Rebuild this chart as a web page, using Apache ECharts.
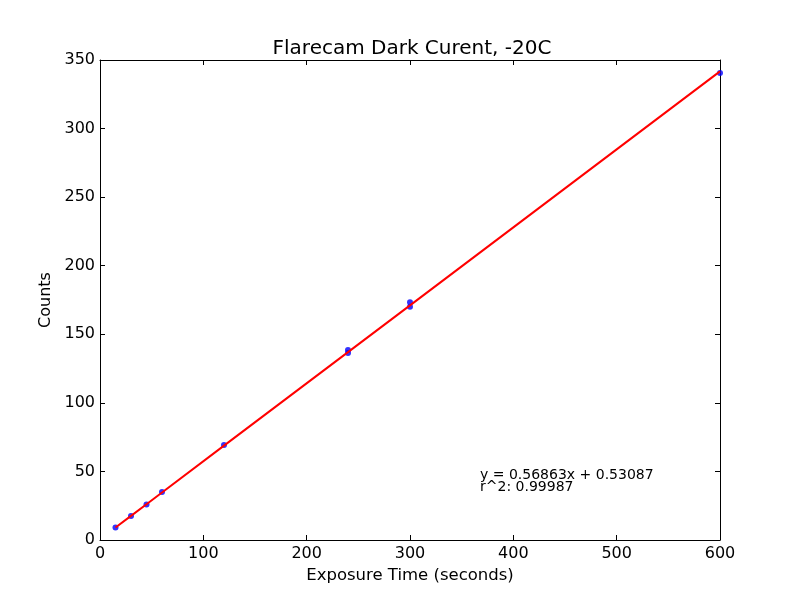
<!DOCTYPE html>
<html>
<head>
<meta charset="utf-8">
<script src="https://cdn.jsdelivr.net/npm/echarts@6/dist/echarts.min.js"></script>
<style>
  html, body { margin: 0; padding: 0; background: #fff; }
  #chart { width: 800px; height: 600px; }
</style>
</head>
<body>
<div id="chart"></div>
<script>
// measured points
const exposure = [15, 30, 45, 60, 120, 240, 240, 300, 300, 600]
const counts = [9.1, 17.5, 25.9, 35.0, 69.3, 138.6, 136.4, 173.4, 170.0, 340.6]
// linear fit as drawn
const fitX = [15, 30, 45, 60, 120, 240, 300, 600]
const fitY = [9.1, 17.6, 26.1, 34.6, 68.8, 137.0, 171.1, 341.7]
const xTicks = [0, 100, 200, 300, 400, 500, 600]
const yTicks = [0, 50, 100, 150, 200, 250, 300, 350]
const fitText = ['y = 0.56863x + 0.53087', 'r^2: 0.99987']

const font = 'DejaVu Sans'
const chart = echarts.init(document.getElementById('chart'))

const baseAxis = {
  type: 'value',
  axisLine: { show: true, onZero: false, lineStyle: { color: '#000', width: 1 } },
  axisTick: { show: true, inside: true, length: 5, lineStyle: { color: '#000' } },
  splitLine: { show: false }
}

chart.setOption({
  animation: false,
  backgroundColor: '#fff',
  title: {
    text: 'Flarecam Dark Curent, -20C',
    left: 407,
    top: 34,
    textAlign: 'center',
    textStyle: { fontFamily: font, fontSize: 20, fontWeight: 'normal', color: '#000' }
  },
  grid: { left: 100, right: 80, top: 60, bottom: 60 },
  xAxis: [
    Object.assign({}, baseAxis, {
      min: 0, max: 600, interval: 100,
      name: 'Exposure Time (seconds)',
      nameLocation: 'middle', nameGap: 23,
      nameTextStyle: { fontFamily: font, fontSize: 16.5, color: '#000' },
      axisLabel: { fontFamily: font, fontSize: 16, color: '#000', margin: 6,
        formatter: v => xTicks.includes(v) ? String(v) : '' }
    }),
    Object.assign({}, baseAxis, {
      position: 'top', min: 0, max: 600, interval: 100,
      axisLabel: { show: false }
    })
  ],
  yAxis: [
    Object.assign({}, baseAxis, {
      min: 0, max: 350, interval: 50,
      name: 'Counts',
      nameLocation: 'middle', nameGap: 37,
      nameTextStyle: { fontFamily: font, fontSize: 16, color: '#000' },
      axisLabel: { fontFamily: font, fontSize: 16, color: '#000', margin: 5,
        formatter: v => yTicks.includes(v) ? String(v) : '' }
    }),
    Object.assign({}, baseAxis, {
      position: 'right', min: 0, max: 350, interval: 50,
      axisLabel: { show: false }
    })
  ],
  series: [
    {
      type: 'scatter',
      data: exposure.map((x, i) => [x, counts[i]]),
      symbol: 'circle',
      symbolSize: 6,
      itemStyle: { color: '#0000ff' },
      z: 2
    },
    {
      type: 'line',
      data: fitX.map((x, i) => [x, fitY[i]]),
      showSymbol: false,
      lineStyle: { color: '#ff0000', width: 2 },
      z: 3
    }
  ],
  graphic: [
    {
      type: 'text', left: 480, top: 468,
      style: { text: fitText.join('\n'), font: '14px "DejaVu Sans"', fill: '#000', lineHeight: 12 }
    }
  ]
})
</script>
</body>
</html>
